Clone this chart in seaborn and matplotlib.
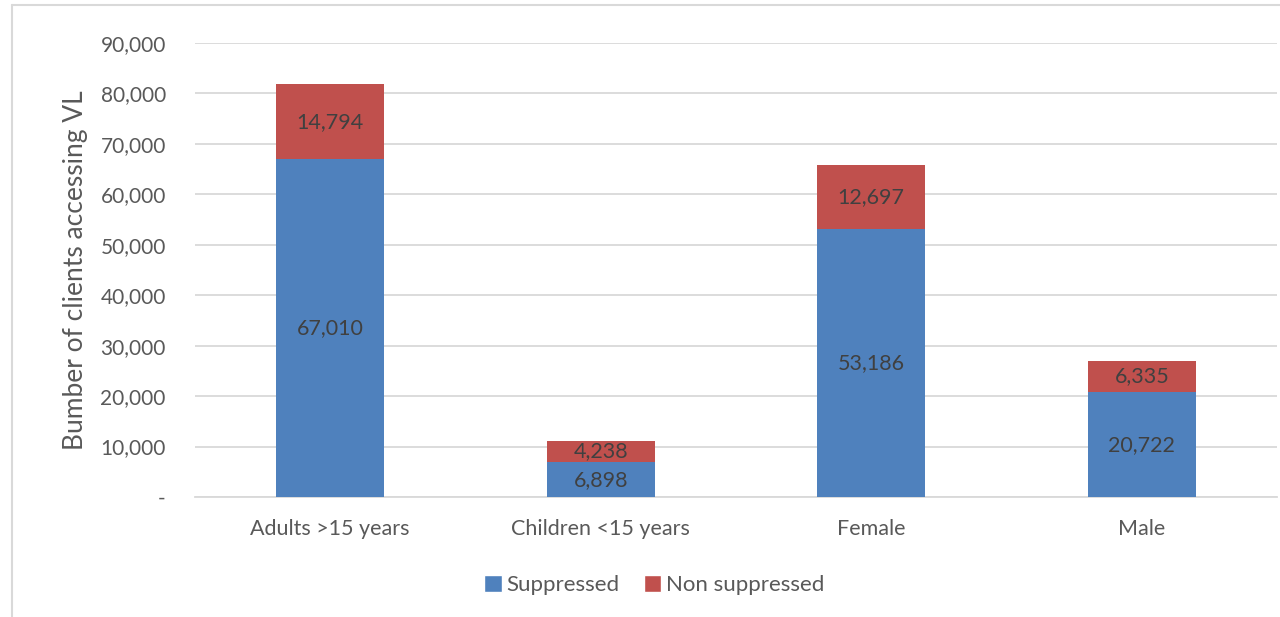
import matplotlib
matplotlib.use("Agg")
import matplotlib.pyplot as plt
import seaborn as sns
import pandas as pd
from matplotlib.lines import Line2D
from matplotlib.patches import Patch

categories = ["Adults >15 years", "Children <15 years", "Female", "Male"]
suppressed = [67010, 6898, 53186, 20722]
non_suppressed = [14794, 4238, 12697, 6335]
y_ticks = [0, 10000, 20000, 30000, 40000, 50000, 60000, 70000, 80000, 90000]

BLUE = "#4F81BD"
RED = "#C0504D"
TEXT = "#595959"
LABEL = "#404040"
GRID = "#D9D9D9"

sns.set_theme(style="white")
plt.rcParams["font.family"] = ["Lato", "DejaVu Sans"]

df = pd.DataFrame({
    "category": categories,
    "suppressed": suppressed,
    "non_suppressed": non_suppressed,
})
df["total"] = df["suppressed"] + df["non_suppressed"]

fig = plt.figure(figsize=(12.8, 6.17), dpi=100)
ax = fig.add_axes([195 / 1280, 1 - 497 / 617, 1082 / 1280, 454 / 617])

# stacked bars: full height in red, suppressed part over it in blue
sns.barplot(data=df, x="category", y="total", color=RED, width=0.4,
            saturation=1, ax=ax, zorder=3, edgecolor="none", linewidth=0)
sns.barplot(data=df, x="category", y="suppressed", color=BLUE, width=0.4,
            saturation=1, ax=ax, zorder=3, edgecolor="none", linewidth=0)

for i, (s, n) in enumerate(zip(suppressed, non_suppressed)):
    ax.text(i, s / 2, f"{s:,}", ha="center", va="center",
            fontsize=15.5, color=LABEL, zorder=4)
    ax.text(i, s + n / 2, f"{n:,}", ha="center", va="center",
            fontsize=15.5, color=LABEL, zorder=4)

ax.set_xlim(-0.5, 3.5)
ax.set_ylim(0, 90000)
ax.set_yticks(y_ticks)
ax.set_yticklabels(["-" if v == 0 else f"{v:,}" for v in y_ticks])
ax.yaxis.grid(True, color=GRID, linewidth=1.3, zorder=0)
ax.set_axisbelow(True)
for side in ["top", "right", "left"]:
    ax.spines[side].set_visible(False)
ax.spines["bottom"].set_color(GRID)
ax.spines["bottom"].set_linewidth(1.3)
ax.tick_params(axis="y", length=0, pad=21, labelsize=15, labelcolor=TEXT)
ax.tick_params(axis="x", length=0, pad=16, labelsize=15.5, labelcolor=TEXT)
ax.set_xlabel("")
ax.set_ylabel("Bumber of clients accessing VL", fontsize=19, color=TEXT,
              labelpad=9)

handles = [Patch(facecolor=BLUE, label="Suppressed"),
           Patch(facecolor=RED, label="Non suppressed")]
fig.legend(handles=handles, loc="center", bbox_to_anchor=(0.511, 1 - 585 / 617),
           ncol=2, frameon=False, fontsize=16, labelcolor=TEXT,
           handlelength=0.8, handleheight=0.8, handletextpad=0.2,
           columnspacing=1.1)

# outer chart frame (left and top edges)
fig.add_artist(Line2D([12 / 1280, 12 / 1280], [0, 1 - 5 / 617],
                      transform=fig.transFigure, color=GRID, linewidth=1.5))
fig.add_artist(Line2D([12 / 1280, 1], [1 - 5 / 617, 1 - 5 / 617],
                      transform=fig.transFigure, color=GRID, linewidth=1.5))

fig.savefig("out.png", dpi=100, facecolor="white")
